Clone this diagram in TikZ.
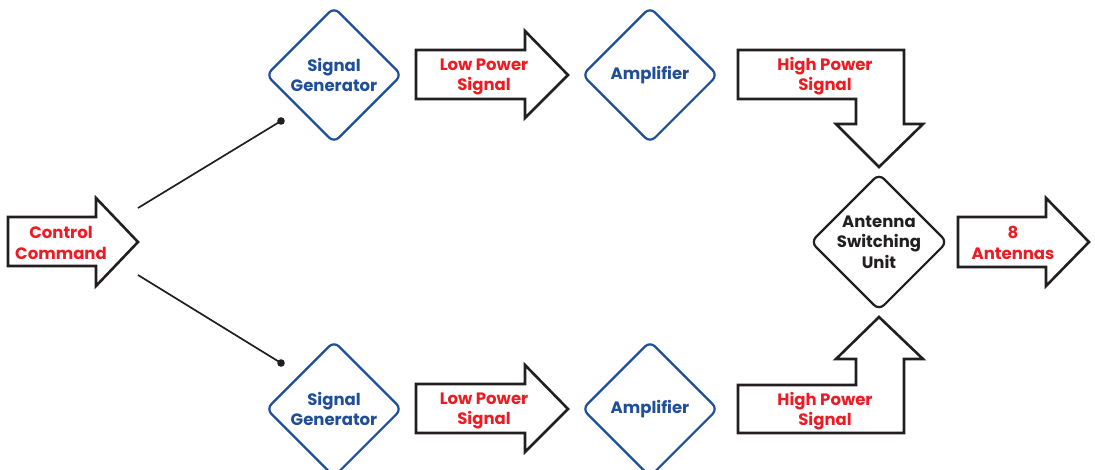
\documentclass[tikz,border=0pt]{standalone}
\usepackage{fontspec}
\setmainfont{Poppins}
\usetikzlibrary{shapes.geometric}
\definecolor{boxblue}{HTML}{1F4E9B}
\definecolor{lblred}{HTML}{ED1C24}
\definecolor{darktxt}{HTML}{231F20}
\begin{document}
\begin{tikzpicture}[x=1pt,y=-1pt,
	blk/.style={diamond,draw=boxblue,line width=2.2pt,rounded corners=7pt,minimum width=136pt,minimum height=136pt,inner sep=0pt,align=center,text=boxblue,font=\bfseries\fontsize{16.5}{20.5}\selectfont},
	fat/.style={draw=darktxt,line width=2.6pt,fill=white,line join=miter},
	lbl/.style={align=center,text=lblred,font=\bfseries\fontsize{16.5}{20.5}\selectfont}]
	\useasboundingbox (0,0) rectangle (1095,469);
	% fleches pleines
	\draw[fat] (8,217)--(96,217)--(96,198)--(138,242)--(96,286)--(96,266)--(8,266)--cycle;
	\draw[fat] (416,50)--(525,50)--(525,31)--(568,75)--(525,118)--(525,99)--(416,99)--cycle;
	\draw[fat] (416,384)--(525,384)--(525,365)--(568,409)--(525,452)--(525,433)--(416,433)--cycle;
	\draw[fat] (738,50)--(904,50)--(904,124)--(923,124)--(879,167)--(836,124)--(856,124)--(856,99)--(738,99)--cycle;
	\draw[fat] (738,433)--(904,433)--(904,359)--(923,359)--(879,317)--(836,359)--(856,359)--(856,385)--(738,385)--cycle;
	\draw[fat] (958,217)--(1046,217)--(1046,198)--(1089,242)--(1046,286)--(1046,267)--(958,267)--cycle;
	% textes des fleches
	\node[lbl] (ctl) at (61,243) {Control\\Command};
	\node[lbl] (lpA) at (484,77) {Low Power\\Signal};
	\node[lbl] (lpB) at (484,411) {Low Power\\Signal};
	\node[lbl] (hpA) at (825,76) {High Power\\Signal};
	\node[lbl] (hpB) at (825,411) {High Power\\Signal};
	\node[lbl] (ant) at (1013,243) {8\\Antennas};
	% blocs
	\node[blk] (genA) at (334,75) {Signal\\Generator};
	\node[blk] (genB) at (334,409) {Signal\\Generator};
	\node[blk] (ampA) at (650,75) {Amplifier};
	\node[blk] (ampB) at (650,409) {Amplifier};
	\node[blk,draw=darktxt,text=darktxt] (asu) at (879,242) {Antenna\\Switching\\Unit};
	% liaisons
	\coordinate (ctlA) at (138,208);
	\coordinate (ctlB) at (138,275);
	\coordinate (dotA) at (281,121);
	\coordinate (dotB) at (281,363);
	\draw[darktxt,line width=1.7pt] (ctlA)--(dotA);
	\draw[darktxt,line width=1.7pt] (ctlB)--(dotB);
	\fill[darktxt] (dotA) circle (3.8pt) (dotB) circle (3.8pt);
\end{tikzpicture}
\end{document}
